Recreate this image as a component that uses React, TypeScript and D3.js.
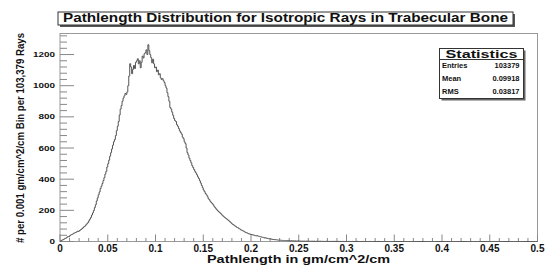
import React from "react";
import * as d3 from "d3";

// histogram contents, one value per 0.001 gm/cm^2/cm bin (0 .. 0.5)
const counts: number[] = [
  2, 6, 10, 12, 16, 20, 22, 27, 32, 30,
  38, 42, 45, 48, 53, 55, 58, 61, 66, 64,
  70, 74, 79, 83, 90, 96, 100, 108, 115, 122,
  133, 144, 155, 170, 184, 199, 218, 236, 260, 280,
  300, 318, 340, 355, 372, 391, 410, 432, 450, 478,
  500, 522, 548, 570, 594, 618, 640, 655, 680, 712,
  740, 770, 812, 850, 872, 900, 920, 935, 950, 944,
  960, 1000, 1062, 1141, 1120, 1077, 1105, 1130, 1110, 1150,
  1160, 1173, 1140, 1160, 1115, 1150, 1190, 1178, 1205, 1212,
  1230, 1200, 1263, 1225, 1200, 1180, 1147, 1170, 1140, 1115,
  1120, 1090, 1100, 1070, 1077, 1050, 1040, 1045, 1032, 1020,
  1000, 985, 955, 930, 900, 860, 850, 830, 810, 790,
  776, 770, 750, 740, 725, 710, 700, 690, 670, 660,
  640, 628, 600, 570, 555, 535, 520, 505, 487, 475,
  462, 450, 440, 428, 415, 404, 390, 375, 360, 345,
  330, 320, 308, 300, 290, 275, 268, 258, 250, 244,
  236, 226, 218, 210, 203, 196, 190, 185, 179, 172,
  166, 160, 155, 150, 146, 140, 135, 130, 124, 118,
  112, 108, 104, 99, 95, 90, 88, 83, 80, 75,
  72, 69, 66, 62, 58, 56, 54, 50, 48, 47,
  45, 43, 42, 40, 38, 36, 38, 34, 33, 31,
  30, 28, 27, 25, 22, 24, 21, 20, 18, 17,
  17, 15, 14, 13, 12, 12, 11, 10, 9, 9,
  8, 8, 7, 7, 6, 6, 6, 5, 6, 5,
  5, 4, 5, 4, 4, 3, 4, 3, 3, 4,
  3, 3, 2, 3, 2, 3, 2, 2, 3, 2,
  2, 2, 1, 2, 2, 1, 2, 1, 1, 2,
  1, 1, 2, 1, 1, 1, 0, 1, 1, 1,
  1, 0, 1, 1, 0, 1, 1, 0, 1, 0,
  0, 1, 0, 1, 0, 0, 1, 0, 0, 1,
  0, 0, 1, 0, 0, 0, 1, 0, 0, 0,
  0, 1, 0, 0, 0, 0, 0, 1, 0, 0,
  0, 0, 0, 0, 1, 0, 0, 0, 0, 0,
  0, 0, 0, 1, 0, 0, 0, 0, 0, 0,
  0, 0, 0, 0, 0, 0, 0, 0, 0, 0,
  0, 0, 0, 0, 0, 0, 0, 0, 0, 0,
  0, 0, 0, 0, 0, 0, 0, 0, 0, 0,
  0, 0, 0, 0, 0, 0, 0, 0, 0, 0,
  0, 0, 0, 0, 0, 0, 0, 0, 0, 0,
  0, 0, 0, 0, 0, 0, 0, 0, 0, 0,
  0, 0, 0, 0, 0, 0, 0, 0, 0, 0,
  0, 0, 0, 0, 0, 0, 0, 0, 0, 0,
  0, 0, 0, 0, 0, 0, 0, 0, 0, 0,
  0, 0, 0, 0, 0, 0, 0, 0, 0, 0,
  0, 0, 0, 0, 0, 0, 0, 0, 0, 0,
  0, 0, 0, 0, 0, 0, 0, 0, 0, 0,
  0, 0, 0, 0, 0, 0, 0, 0, 0, 0,
  0, 0, 0, 0, 0, 0, 0, 0, 0, 0,
  0, 0, 0, 0, 0, 0, 0, 0, 0, 0,
  0, 0, 0, 0, 0, 0, 0, 0, 0, 0,
];
const binWidth = 0.001;

const xTicks = [0, 0.05, 0.1, 0.15, 0.2, 0.25, 0.3, 0.35, 0.4, 0.45, 0.5];
const xTickLabels = ["0", "0.05", "0.1", "0.15", "0.2", "0.25", "0.3", "0.35", "0.4", "0.45", "0.5"];
const yTicks = [0, 200, 400, 600, 800, 1000, 1200];

const title = "Pathlength Distribution for Isotropic Rays in Trabecular Bone";
const xTitle = "Pathlength in gm/cm^2/cm";
const yTitle = "# per 0.001 gm/cm^2/cm Bin per 103,379 Rays";
const statNames = ["Entries", "Mean", "RMS"];
const statValues = ["103379", "0.09918", "0.03817"];

const font = "'Liberation Sans', Arial, sans-serif";

export default function App() {
  const width = 545;
  const height = 266;
  const m = { left: 60, right: 537.5, top: 33.5, bottom: 241.5 };

  const x = d3.scaleLinear().domain([0, 0.5]).range([m.left, m.right]);
  const y = d3.scaleLinear().domain([0, 1335]).range([m.bottom, m.top]);

  const pts: [number, number][] = counts.map((c, i) => [i * binWidth, c]);
  pts.push([counts.length * binWidth, counts[counts.length - 1]]);
  const line = d3
    .line<[number, number]>()
    .x((d) => x(d[0]))
    .y((d) => y(d[1]))
    .curve(d3.curveStepAfter);

  const xMinor = d3.range(0, 0.5001, 0.01);
  const yMinor = d3.range(0, 1321, 40);

  const rowY = [65, 78.5, 91.5];

  return (
    <svg
      width={width}
      height={height}
      style={{ position: "absolute", left: 0, top: 0, background: "#fff" }}
      fontFamily={font}
      fontWeight="bold"
    >
      {/* title pave */}
      <rect x={60} y={14} width={455} height={13} fill="#555" />
      <rect x={58} y={12} width={455} height={13} fill="#fff" stroke="#333" />
      <text x={285.5} y={22} fontSize={12} textAnchor="middle" textLength={445} lengthAdjust="spacingAndGlyphs" fill="#111">
        {title}
      </text>

      {/* frame */}
      <rect x={m.left} y={m.top} width={m.right - m.left} height={m.bottom - m.top} fill="none" stroke="#999" />

      {/* y ticks */}
      {yMinor.map((v) => {
        const major = v % 200 === 0;
        return (
          <line key={"ym" + v} x1={m.left} x2={m.left + (major ? 14 : 7)} y1={y(v)} y2={y(v)} stroke="#888" />
        );
      })}
      {yTicks.map((v) => (
        <text
          key={"yl" + v}
          x={55}
          y={y(v) + 2.5}
          fontSize={7.5}
          textAnchor="end"
          textLength={String(v).length * 5.5}
          lengthAdjust="spacingAndGlyphs"
          fill="#111"
        >
          {v}
        </text>
      ))}

      {/* x ticks */}
      {xMinor.map((v, i) => {
        const major = i % 5 === 0;
        return (
          <line key={"xm" + i} x1={x(v)} x2={x(v)} y1={m.bottom} y2={m.bottom - (major ? 7 : 3.5)} stroke="#888" />
        );
      })}
      {xTicks.map((v, i) => (
        <text key={"xl" + i} x={x(v)} y={252} fontSize={10} textAnchor="middle" fill="#111">
          {xTickLabels[i]}
        </text>
      ))}

      {/* histogram */}
      <path d={line(pts) || ""} fill="none" stroke="#555" strokeWidth={1} />

      {/* axis titles */}
      <text x={298.5} y={263} fontSize={10} textAnchor="middle" textLength={183} lengthAdjust="spacingAndGlyphs" fill="#111">
        {xTitle}
      </text>
      <text
        transform="translate(24,138) rotate(-90)"
        fontSize={11}
        textAnchor="middle"
        textLength={210}
        lengthAdjust="spacingAndGlyphs"
        fill="#111"
      >
        {yTitle}
      </text>

      {/* stats box */}
      <rect x={441.5} y={50.5} width={84} height={50} fill="#666" />
      <rect x={439.5} y={48.5} width={84} height={50} fill="#fff" stroke="#333" />
      <line x1={439.5} x2={523.5} y1={59.5} y2={59.5} stroke="#333" />
      <text x={481.5} y={57.5} fontSize={10.5} textAnchor="middle" textLength={72} lengthAdjust="spacingAndGlyphs" fill="#111">
        Statistics
      </text>
      {statNames.map((n, i) => (
        <g key={n}>
          <text x={442} y={rowY[i] + 2.5} fontSize={7.5} fill="#111">
            {n}
          </text>
          <text x={519.5} y={rowY[i] + 2.5} fontSize={7.5} textAnchor="end" fill="#111">
            {statValues[i]}
          </text>
        </g>
      ))}
    </svg>
  );
}
